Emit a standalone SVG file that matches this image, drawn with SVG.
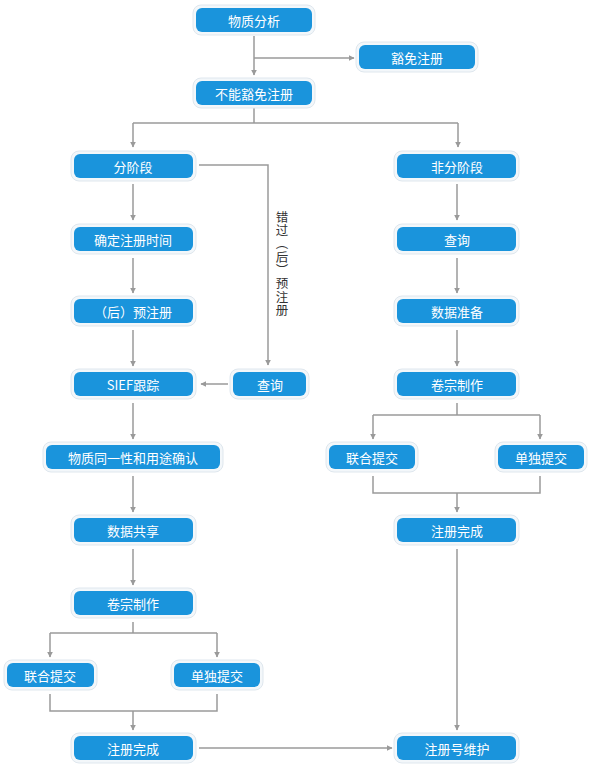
<svg xmlns="http://www.w3.org/2000/svg" width="593" height="768" viewBox="0 0 593 768">
<defs>
<style>
.o{fill:#f3f7fa;stroke:#dfe7ee;stroke-width:1}
.b{fill:#1a94dc}
.t{fill:#ffffff;font-family:"Noto Sans CJK SC","Noto Sans",sans-serif;font-size:13px;text-anchor:middle;dominant-baseline:central}
.c{fill:none;stroke:#9a9a9a;stroke-width:1.5}
.a{marker-end:url(#ar)}
.lbl{fill:#333;font-family:"Noto Sans CJK SC","Noto Sans",sans-serif;font-size:12.5px;text-anchor:middle;dominant-baseline:central}
</style>
<marker id="ar" viewBox="0 0 10 10" refX="9" refY="5" markerWidth="6" markerHeight="6" markerUnits="userSpaceOnUse" orient="auto">
<path d="M0,0 L10,5 L0,10 z" fill="#9a9a9a"/>
</marker>
</defs>
<rect width="593" height="768" fill="#ffffff"/>
<g id="connectors">
<path class="c a" d="M254,36 V75"/>
<path class="c a" d="M254,58 H354"/>
<path class="c" d="M254,108 V123 M133,123 H458"/>
<path class="c a" d="M133,123 V147"/>
<path class="c a" d="M458,123 V147"/>
<path class="c a" d="M199,165 H268 V365"/>
<path class="c a" d="M133,184 V220"/>
<path class="c a" d="M133,258 V293"/>
<path class="c a" d="M133,330 V366"/>
<path class="c a" d="M228,384 H201"/>
<path class="c a" d="M133,403 V439"/>
<path class="c a" d="M133,476 V512"/>
<path class="c a" d="M133,549 V585"/>
<path class="c" d="M133,622 V633 M50,633 H217"/>
<path class="c a" d="M50,633 V657"/>
<path class="c a" d="M217,633 V657"/>
<path class="c" d="M50,694 V711 H217 V694"/>
<path class="c a" d="M133,711 V730"/>
<path class="c a" d="M199,748 H392"/>
<path class="c a" d="M457,184 V220"/>
<path class="c a" d="M457,258 V293"/>
<path class="c a" d="M457,330 V366"/>
<path class="c" d="M457,403 V415 M373,415 H540"/>
<path class="c a" d="M373,415 V439"/>
<path class="c a" d="M540,415 V439"/>
<path class="c" d="M373,476 V493 H540 V476"/>
<path class="c a" d="M457,493 V512"/>
<path class="c a" d="M457,549 V730"/>
<text class="lbl"><tspan x="282" y="216">错</tspan><tspan x="282" y="229">过</tspan><tspan x="282" y="242">︵</tspan><tspan x="282" y="256">后</tspan><tspan x="282" y="269">︶</tspan><tspan x="282" y="282">预</tspan><tspan x="282" y="296">注</tspan><tspan x="282" y="309">册</tspan></text>
</g>
<g id="n1"><rect class="o" x="193" y="5" width="122" height="30" rx="8"/><rect class="b" x="196" y="8" width="116" height="24" rx="6"/><text class="t" x="254" y="20">物质分析</text></g>
<g id="n2"><rect class="o" x="356" y="42" width="122" height="30" rx="8"/><rect class="b" x="359" y="45" width="116" height="24" rx="6"/><text class="t" x="417" y="57">豁免注册</text></g>
<g id="n3"><rect class="o" x="193" y="78" width="122" height="30" rx="8"/><rect class="b" x="196" y="81" width="116" height="24" rx="6"/><text class="t" x="254" y="93">不能豁免注册</text></g>
<g id="n4"><rect class="o" x="71" y="151" width="125" height="30" rx="8"/><rect class="b" x="74" y="154" width="119" height="24" rx="6"/><text class="t" x="133" y="166">分阶段</text></g>
<g id="n5"><rect class="o" x="394" y="151" width="125" height="30" rx="8"/><rect class="b" x="397" y="154" width="119" height="24" rx="6"/><text class="t" x="457" y="166">非分阶段</text></g>
<g id="n6"><rect class="o" x="71" y="224" width="125" height="30" rx="8"/><rect class="b" x="74" y="227" width="119" height="24" rx="6"/><text class="t" x="133" y="239">确定注册时间</text></g>
<g id="n7"><rect class="o" x="394" y="224" width="125" height="30" rx="8"/><rect class="b" x="397" y="227" width="119" height="24" rx="6"/><text class="t" x="457" y="239">查询</text></g>
<g id="n8"><rect class="o" x="71" y="296" width="125" height="30" rx="8"/><rect class="b" x="74" y="299" width="119" height="24" rx="6"/><text class="t" x="133" y="311">（后）预注册</text></g>
<g id="n9"><rect class="o" x="394" y="296" width="125" height="30" rx="8"/><rect class="b" x="397" y="299" width="119" height="24" rx="6"/><text class="t" x="457" y="311">数据准备</text></g>
<g id="n10"><rect class="o" x="71" y="369" width="125" height="30" rx="8"/><rect class="b" x="74" y="372" width="119" height="24" rx="6"/><text class="t" x="133" y="384">SIEF跟踪</text></g>
<g id="n11"><rect class="o" x="230" y="369" width="79" height="30" rx="8"/><rect class="b" x="233" y="372" width="73" height="24" rx="6"/><text class="t" x="270" y="384">查询</text></g>
<g id="n12"><rect class="o" x="394" y="369" width="125" height="30" rx="8"/><rect class="b" x="397" y="372" width="119" height="24" rx="6"/><text class="t" x="457" y="384">卷宗制作</text></g>
<g id="n13"><rect class="o" x="43" y="442" width="180" height="30" rx="8"/><rect class="b" x="46" y="445" width="174" height="24" rx="6"/><text class="t" x="133" y="457">物质同一性和用途确认</text></g>
<g id="n14"><rect class="o" x="326" y="442" width="92" height="30" rx="8"/><rect class="b" x="329" y="445" width="86" height="24" rx="6"/><text class="t" x="372" y="457">联合提交</text></g>
<g id="n15"><rect class="o" x="495" y="442" width="92" height="30" rx="8"/><rect class="b" x="498" y="445" width="86" height="24" rx="6"/><text class="t" x="541" y="457">单独提交</text></g>
<g id="n16"><rect class="o" x="71" y="515" width="125" height="30" rx="8"/><rect class="b" x="74" y="518" width="119" height="24" rx="6"/><text class="t" x="133" y="530">数据共享</text></g>
<g id="n17"><rect class="o" x="394" y="515" width="125" height="30" rx="8"/><rect class="b" x="397" y="518" width="119" height="24" rx="6"/><text class="t" x="457" y="530">注册完成</text></g>
<g id="n18"><rect class="o" x="71" y="588" width="125" height="30" rx="8"/><rect class="b" x="74" y="591" width="119" height="24" rx="6"/><text class="t" x="133" y="603">卷宗制作</text></g>
<g id="n19"><rect class="o" x="4" y="660" width="93" height="30" rx="8"/><rect class="b" x="7" y="663" width="87" height="24" rx="6"/><text class="t" x="50" y="675">联合提交</text></g>
<g id="n20"><rect class="o" x="171" y="660" width="92" height="30" rx="8"/><rect class="b" x="174" y="663" width="86" height="24" rx="6"/><text class="t" x="217" y="675">单独提交</text></g>
<g id="n21"><rect class="o" x="71" y="733" width="125" height="30" rx="8"/><rect class="b" x="74" y="736" width="119" height="24" rx="6"/><text class="t" x="133" y="748">注册完成</text></g>
<g id="n22"><rect class="o" x="394" y="733" width="125" height="30" rx="8"/><rect class="b" x="397" y="736" width="119" height="24" rx="6"/><text class="t" x="457" y="748">注册号维护</text></g>
</svg>
